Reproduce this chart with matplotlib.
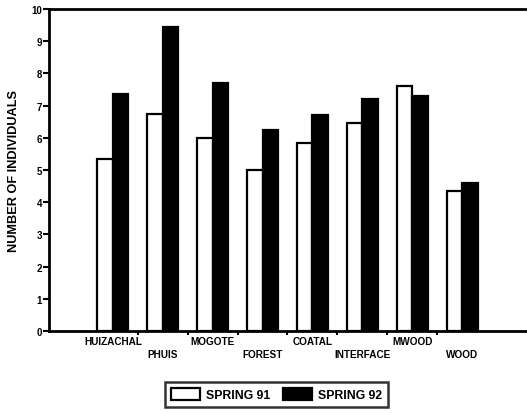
import numpy as np
import matplotlib
matplotlib.use("Agg")
import matplotlib.pyplot as plt

# habitat sites, alternating label rows as on the axis
sites = ["HUIZACHAL", "PHUIS", "MOGOTE", "FOREST", "COATAL", "INTERFACE", "MWOOD", "WOOD"]
spring_91 = [5.35, 6.75, 6.0, 5.0, 5.85, 6.45, 7.6, 4.35]
spring_92 = [7.35, 9.45, 7.7, 6.25, 6.7, 7.2, 7.3, 4.6]
y_ticks = list(range(0, 11))

plt.rcParams['font.family'] = ['Liberation Sans', 'DejaVu Sans']
plt.rcParams['font.weight'] = 'bold'

fig = plt.figure(figsize=(5.27, 4.14), dpi=100)
ax = fig.add_axes([0.093, 0.198, 0.905, 0.778])

x = np.arange(len(sites))
w = 0.31
ax.bar(x - w / 2, spring_91, w, color='white', edgecolor='black', linewidth=1.6, label='SPRING 91')
ax.bar(x + w / 2, spring_92, w, color='black', edgecolor='black', linewidth=1.6, label='SPRING 92')

ax.set_xlim(-1.28, 8.28)
ax.set_ylim(0, 10)
ax.set_yticks(y_ticks)
ax.set_yticklabels([str(t) for t in y_ticks], fontsize=7, fontweight='bold')
ax.tick_params(axis='y', direction='out', length=4, width=1.5, pad=1)

# labels sit under each group, ticks fall between groups
ax.set_xticks(x)
ax.set_xticklabels([])
ax.tick_params(axis='x', which='major', length=0)
ax.set_xticks(x[:-1] + 0.5, minor=True)
ax.tick_params(axis='x', which='minor', direction='out', length=3, width=1.5)
for i, name in enumerate(sites):
    yoff = -0.03 if i % 2 == 0 else -0.072
    ax.text(i, yoff, name, transform=ax.get_xaxis_transform(), ha='center', va='center',
            fontsize=7.2, fontweight='bold')

ax.set_ylabel('NUMBER OF INDIVIDUALS', fontsize=9.2, fontweight='bold', labelpad=8)

for side in ['left', 'top', 'bottom']:
    ax.spines[side].set_linewidth(2)
ax.spines['right'].set_visible(False)

leg = fig.legend(loc='center', bbox_to_anchor=(0.525, 0.045), ncol=2, fontsize=8.8,
                 frameon=True, fancybox=False, edgecolor='black', handlelength=2.4,
                 handleheight=1.2, columnspacing=1.0, handletextpad=0.5, borderpad=0.45,
                 borderaxespad=0)
leg.get_frame().set_linewidth(1.8)
for t in leg.get_texts():
    t.set_fontweight('bold')

fig.savefig('out.png', dpi=100)
